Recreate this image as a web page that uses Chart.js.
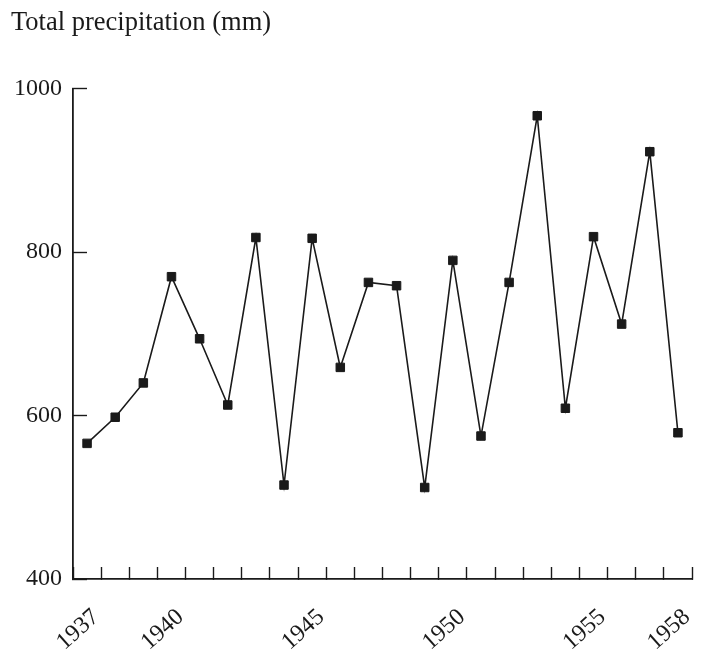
<!DOCTYPE html>
<html>
<head>
<meta charset="utf-8">
<script src="https://cdn.jsdelivr.net/npm/chart.js@4/dist/chart.umd.min.js"></script>
<style>
  html, body { margin: 0; padding: 0; background: #ffffff; }
  #wrap { width: 702px; height: 655px; }
</style>
</head>
<body>
<div id="wrap"><canvas id="c" width="702" height="655"></canvas></div>
<script>
const years = ['1937','1938','1939','1940','1941','1942','1943','1944','1945','1946','1947',
               '1948','1949','1950','1951','1952','1953','1954','1955','1956','1957','1958'];
const precipitation = [566, 598, 640, 770, 694, 613, 818, 515, 817, 659, 763,
                       759, 512, 790, 575, 763, 967, 609, 819, 712, 923, 579];
const shownYearLabels = ['1937','1940','1945','1950','1955','1958'];
const yTicks = [400, 600, 800, 1000];
const titleText = 'Total precipitation (mm)';

const serif = '"Liberation Serif", "DejaVu Serif", serif';
const ink = '#1a1a1a';

new Chart(document.getElementById('c'), {
  type: 'line',
  data: {
    labels: years,
    datasets: [{
      data: precipitation,
      borderColor: ink,
      borderWidth: 1.6,
      tension: 0,
      pointStyle: 'rect',
      pointRadius: 6,
      pointBorderWidth: 1,
      pointBackgroundColor: ink,
      pointBorderColor: ink,
      fill: false
    }]
  },
  options: {
    responsive: false,
    animation: false,
    devicePixelRatio: 1,
    layout: { padding: { left: 11, right: 10, top: 0, bottom: 0 } },
    plugins: {
      legend: { display: false },
      tooltip: { enabled: false },
      title: {
        display: true,
        text: titleText,
        align: 'start',
        color: ink,
        font: { family: serif, size: 26.5, weight: 'normal', lineHeight: 1.2 },
        padding: { top: 7, bottom: 50 }
      }
    },
    scales: {
      x: {
        type: 'category',
        offset: true,
        afterFit: (s) => { s.height = 76; s.paddingRight = 0; s.paddingLeft = 0; },
        border: { display: true, color: ink, width: 1.8 },
        grid: {
          offset: true,
          drawOnChartArea: false,
          drawTicks: true,
          tickLength: -12,
          tickWidth: 1.4,
          tickColor: ink
        },
        ticks: {
          autoSkip: false,
          minRotation: 42,
          maxRotation: 42,
          padding: 36,
          labelOffset: 9,
          color: ink,
          font: { family: serif, size: 24 },
          callback: function (value) {
            const lab = this.getLabelForValue(value);
            return shownYearLabels.includes(lab) ? lab : '';
          }
        }
      },
      y: {
        min: 400,
        max: 1000,
        afterFit: (s) => { s.width = 62; },
        afterBuildTicks: (s) => { s.ticks = yTicks.map(v => ({ value: v })); },
        border: { display: true, color: ink, width: 1.8 },
        grid: {
          drawOnChartArea: false,
          drawTicks: true,
          tickLength: -14,
          tickWidth: 1.4,
          tickColor: ink
        },
        ticks: {
          padding: 25,
          color: ink,
          font: { family: serif, size: 24 },
          callback: (v) => String(v)
        }
      }
    }
  }
});
</script>
</body>
</html>
